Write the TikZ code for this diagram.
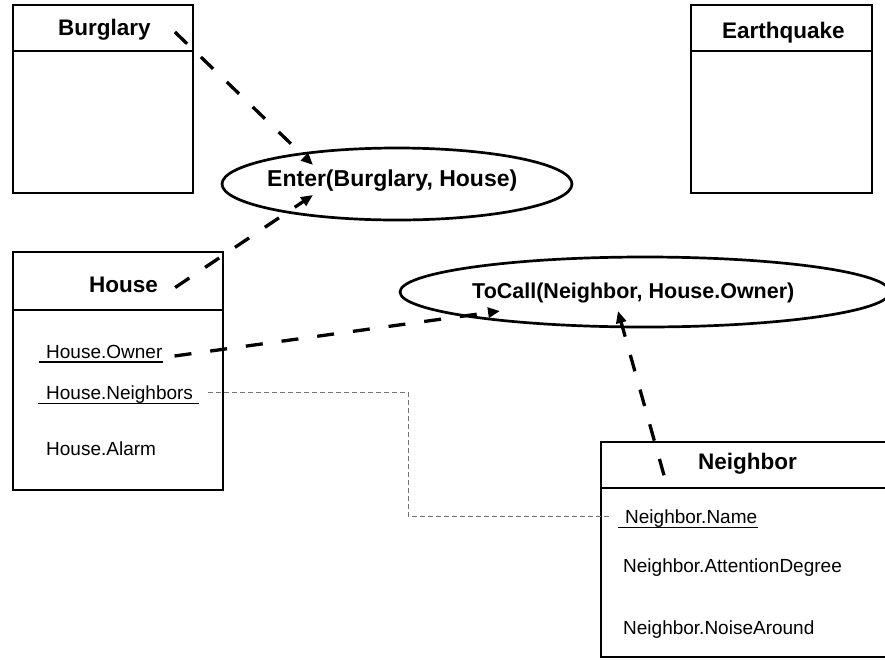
\documentclass[tikz,border=0pt]{standalone}
\usepackage{fontspec}
\setmainfont{Liberation Sans}
\usetikzlibrary{arrows.meta,shapes.geometric}

\tikzset{
  classbox/.style={draw, line width=2.6pt, rectangle, inner sep=0pt},
  divider/.style={line width=2.4pt},
  usecase/.style={draw, line width=2.7pt, ellipse, inner sep=0pt},
  titletext/.style={inner sep=0pt, anchor=base west, font=\fontsize{22.5pt}{27pt}\selectfont\bfseries},
  attrtext/.style={inner sep=0pt, anchor=base west, font=\fontsize{19pt}{23pt}\selectfont},
  uline/.style={line width=1.3pt},
  depend/.style={line width=3.3pt, dash pattern=on 17pt off 19pt,
    -{Triangle[length=12pt,width=10pt]}},
  linkline/.style={line width=1.1pt, draw=black!55, dash pattern=on 5pt off 3pt}
}

\begin{document}
\begin{tikzpicture}[x=1pt, y=-1pt]
  \useasboundingbox (0,0) rectangle (885,659);
  \fill[white] (0,0) rectangle (885,659);

  % class boxes
  \node[classbox, minimum width=180pt, minimum height=188pt] (burglary) at (103,99) {};
  \draw[divider] (13,51) -- (193,51);
  \node[titletext] (burgT) at (58,35) {Burglary};

  \node[classbox, minimum width=181pt, minimum height=188pt] (quake) at (781.5,99) {};
  \draw[divider] (691,51) -- (872,51);
  \node[titletext] (quakeT) at (722,38) {Earthquake};

  \node[classbox, minimum width=210pt, minimum height=238pt] (house) at (118,371) {};
  \draw[divider] (13,310) -- (223,310);
  \node[titletext] (houseT) at (89,292.5) {House};
  \node[attrtext] (howner) at (46,358) {House.Owner};
  \node[attrtext] (hneigh) at (46,399.3) {House.Neighbors};
  \node[attrtext] (halarm) at (46,455) {House.Alarm};
  \draw[uline] ([shift={(-7,4)}]howner.base west) -- ([shift={(0,4)}]howner.base east);
  \draw[uline] ([shift={(-8,4)}]hneigh.base west) -- ([shift={(6,4)}]hneigh.base east);

  \node[classbox, minimum width=299pt, minimum height=215pt] (neighbor) at (750.5,549.5) {};
  \draw[divider] (601,488) -- (900,488);
  \node[titletext] (neighT) at (698,469.3) {Neighbor};
  \node[attrtext] (nname) at (625,523.3) {Neighbor.Name};
  \node[attrtext] (nattn) at (623,572.7) {Neighbor.AttentionDegree};
  \node[attrtext] (nnoise) at (623,634.3) {Neighbor.NoiseAround};
  \draw[uline] ([shift={(-7,4)}]nname.base west) -- ([shift={(1,4)}]nname.base east);

  % use cases
  \node[usecase, minimum width=350pt, minimum height=72pt] (enter) at (397,184) {};
  \node[titletext, font=\fontsize{23pt}{27pt}\selectfont\bfseries] (enterT) at (267,186.7) {Enter(Burglary, House)};

  \node[usecase, minimum width=490pt, minimum height=70pt] (tocall) at (645,292) {};
  \node[titletext, font=\fontsize{21.5pt}{26pt}\selectfont\bfseries] (tocallT) at (472,298.3) {ToCall(Neighbor, House.Owner)};

  % dependencies
  \draw[depend] ([shift={(24,-3)}]burgT.base east) -- ([shift={(-84,-19)}]enter.center);
  \draw[depend] ([shift={(17,-5)}]houseT.base east) -- ([shift={(-84,11)}]enter.center);
  \draw[depend] ([shift={(12,-2)}]howner.base east) -- ([shift={(-145,19)}]tocall.center);
  \draw[depend] ([shift={(-34,6)}]neighT.base west) -- ([shift={(-27,19)}]tocall.center);

  % attribute link
  \draw[linkline] ([shift={(15,-7)}]hneigh.base east) -- ++(200,0)
    |- ([shift={(-14,-7)}]nname.base west);
\end{tikzpicture}
\end{document}
